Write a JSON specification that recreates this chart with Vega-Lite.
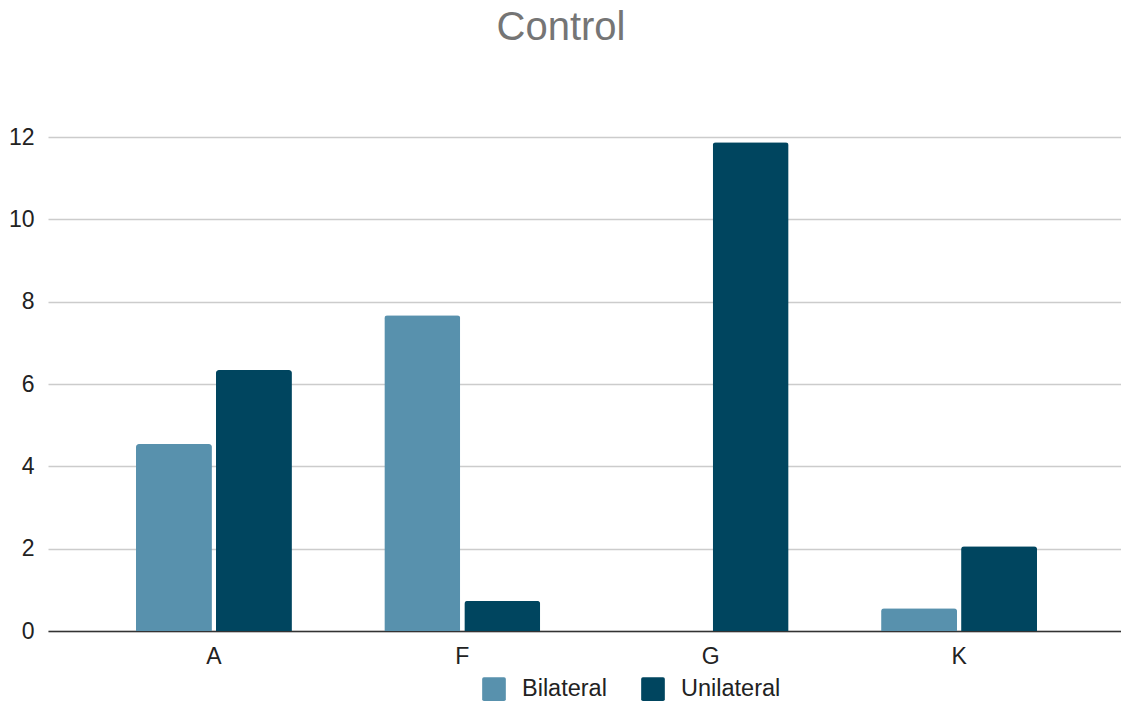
{
  "$schema": "https://vega.github.io/schema/vega-lite/v6.json",
  "width": 1072,
  "height": 494,
  "autosize": {"type": "none"},
  "padding": {"left": 48, "top": 137, "right": 1, "bottom": 75},
  "background": "white",
  "title": {
    "text": "Control",
    "anchor": "middle",
    "frame": "group",
    "dx": -23,
    "offset": 38,
    "baseline": "bottom",
    "font": "Liberation Sans",
    "fontSize": 40,
    "fontWeight": "normal",
    "color": "#757575"
  },
  "data": {
    "values": [
      {"category": "A", "series": "Bilateral", "value": 4.54},
      {"category": "A", "series": "Unilateral", "value": 6.34},
      {"category": "F", "series": "Bilateral", "value": 7.67},
      {"category": "F", "series": "Unilateral", "value": 0.73},
      {"category": "G", "series": "Bilateral", "value": 0},
      {"category": "G", "series": "Unilateral", "value": 11.87},
      {"category": "K", "series": "Bilateral", "value": 0.55},
      {"category": "K", "series": "Unilateral", "value": 2.06}
    ]
  },
  "mark": {"type": "bar", "cornerRadiusTopLeft": 3, "cornerRadiusTopRight": 3},
  "encoding": {
    "x": {
      "field": "category",
      "type": "nominal",
      "sort": ["A", "F", "G", "K"],
      "scale": {"paddingInner": 0.372, "paddingOuter": 0.354, "range": [0, 1077]},
      "axis": {
        "title": null,
        "labelAngle": 0,
        "labelFont": "Liberation Sans",
        "labelFontSize": 23,
        "labelColor": "#222222",
        "labelPadding": 14,
        "ticks": false,
        "domainColor": "#333333",
        "domainWidth": 1.5,
        "grid": false
      }
    },
    "xOffset": {
      "field": "series",
      "type": "nominal",
      "sort": ["Bilateral", "Unilateral"],
      "scale": {"paddingInner": 0.05}
    },
    "y": {
      "field": "value",
      "type": "quantitative",
      "scale": {"domain": [0, 12], "nice": false},
      "axis": {
        "title": null,
        "values": [0, 2, 4, 6, 8, 10, 12],
        "labelFont": "Liberation Sans",
        "labelFontSize": 23,
        "labelColor": "#222222",
        "labelPadding": 14,
        "ticks": false,
        "domain": false,
        "gridColor": "#cccccc",
        "gridWidth": 1.5
      }
    },
    "color": {
      "field": "series",
      "type": "nominal",
      "sort": ["Bilateral", "Unilateral"],
      "scale": {"domain": ["Bilateral", "Unilateral"], "range": ["#5891ad", "#00455f"]},
      "legend": {
        "title": null,
        "orient": "none",
        "direction": "horizontal",
        "legendX": 434,
        "legendY": 540,
        "symbolType": "M-0.85,-1 L0.85,-1 Q1,-1 1,-0.85 L1,0.85 Q1,1 0.85,1 L-0.85,1 Q-1,1 -1,0.85 L-1,-0.85 Q-1,-1 -0.85,-1 Z",
        "symbolSize": 560,
        "symbolStrokeWidth": 0,
        "symbolOpacity": 1,
        "labelFont": "Liberation Sans",
        "labelFontSize": 23.5,
        "labelColor": "#222222",
        "labelOffset": 16,
        "columnPadding": 34
      }
    }
  },
  "config": {"view": {"stroke": null}}
}
